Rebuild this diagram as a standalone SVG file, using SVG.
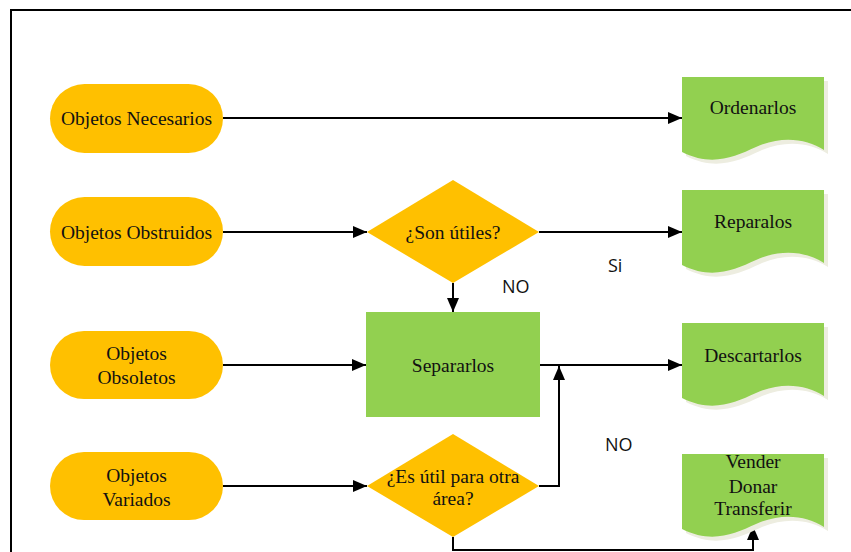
<svg xmlns="http://www.w3.org/2000/svg" width="851" height="552" viewBox="0 0 851 552">
<style>
.stad{fill:#FFC000}
.dia{fill:#FFC000}
.grn{fill:#92D050}
.shd{fill:#EDEDE0}
.t{font-family:"Liberation Serif","Times New Roman",serif;font-size:19.5px;fill:#111;text-anchor:middle}
.s{font-family:"Open Sans","Noto Sans",sans-serif;font-size:18px;fill:#111}
.c{stroke:#000;stroke-width:2;fill:none}
</style>
<defs>
<marker id="ah" markerUnits="userSpaceOnUse" markerWidth="14" markerHeight="12" refX="14" refY="6" orient="auto">
<path d="M0,0 L14,6 L0,12 Z" fill="#000"/>
</marker>
<path id="doc" d="M0,0 H142 V73 C125,62 100,58 74,70 C52,80 30,90 0,75 Z"/>
</defs>
<rect x="11" y="10" width="900" height="600" fill="none" stroke="#000" stroke-width="2"/>
<g id="connectors">
<line class="c" x1="223" y1="118" x2="682" y2="118" marker-end="url(#ah)"/>
<line class="c" x1="223" y1="232" x2="367" y2="232" marker-end="url(#ah)"/>
<line class="c" x1="539" y1="232" x2="682" y2="232" marker-end="url(#ah)"/>
<line class="c" x1="453" y1="283" x2="453" y2="312" marker-end="url(#ah)"/>
<line class="c" x1="223" y1="365" x2="366" y2="365" marker-end="url(#ah)"/>
<line class="c" x1="540" y1="365" x2="682" y2="365" marker-end="url(#ah)"/>
<line class="c" x1="223" y1="486" x2="367" y2="486" marker-end="url(#ah)"/>
<polyline class="c" points="539,486 559,486 559,366" marker-end="url(#ah)"/>
<polyline class="c" points="453,537 453,550 753,550 753,526" marker-end="url(#ah)"/>
<text class="s" x="608" y="272">Si</text>
<text class="s" x="502" y="293">NO</text>
<text class="s" x="605" y="451">NO</text>
</g>
<g id="n-necesarios">
<rect class="stad" x="50" y="84" width="173" height="69" rx="34.5"/>
<text class="t" x="136.5" y="125">Objetos Necesarios</text>
</g>
<g id="n-obstruidos">
<rect class="stad" x="50" y="197" width="173" height="69" rx="34.5"/>
<text class="t" x="136.5" y="239">Objetos Obstruidos</text>
</g>
<g id="n-obsoletos">
<rect class="stad" x="50" y="331" width="173" height="68" rx="34"/>
<text class="t" x="136.5" y="360">Objetos</text>
<text class="t" x="136.5" y="384">Obsoletos</text>
</g>
<g id="n-variados">
<rect class="stad" x="50" y="452" width="173" height="68" rx="34"/>
<text class="t" x="136.5" y="482">Objetos</text>
<text class="t" x="136.5" y="506">Variados</text>
</g>
<g id="n-utiles">
<polygon class="dia" points="453,180 539,232 453,283 367,232"/>
<text class="t" x="453" y="239">¿Son útiles?</text>
</g>
<g id="n-separarlos">
<rect class="grn" x="366" y="312" width="174" height="105"/>
<text class="t" x="453" y="372">Separarlos</text>
</g>
<g id="n-otra-area">
<polygon class="dia" points="453,434 539,486 453,537 367,486"/>
<text class="t" x="453" y="483">¿Es útil para otra</text>
<text class="t" x="453" y="505">área?</text>
</g>
<g id="n-ordenarlos">
<use href="#doc" class="shd" x="686" y="81"/>
<use href="#doc" class="grn" x="682" y="77"/>
<text class="t" x="753" y="114">Ordenarlos</text>
</g>
<g id="n-reparalos">
<use href="#doc" class="shd" x="686" y="194"/>
<use href="#doc" class="grn" x="682" y="190"/>
<text class="t" x="753" y="228">Reparalos</text>
</g>
<g id="n-descartarlos">
<use href="#doc" class="shd" x="686" y="327"/>
<use href="#doc" class="grn" x="682" y="323"/>
<text class="t" x="753" y="362">Descartarlos</text>
</g>
<g id="n-vender">
<use href="#doc" class="shd" x="686" y="458"/>
<use href="#doc" class="grn" x="682" y="454"/>
<text class="t" x="753" y="468">Vender</text>
<text class="t" x="753" y="493">Donar</text>
<text class="t" x="753" y="515">Transferir</text>
</g>
</svg>
